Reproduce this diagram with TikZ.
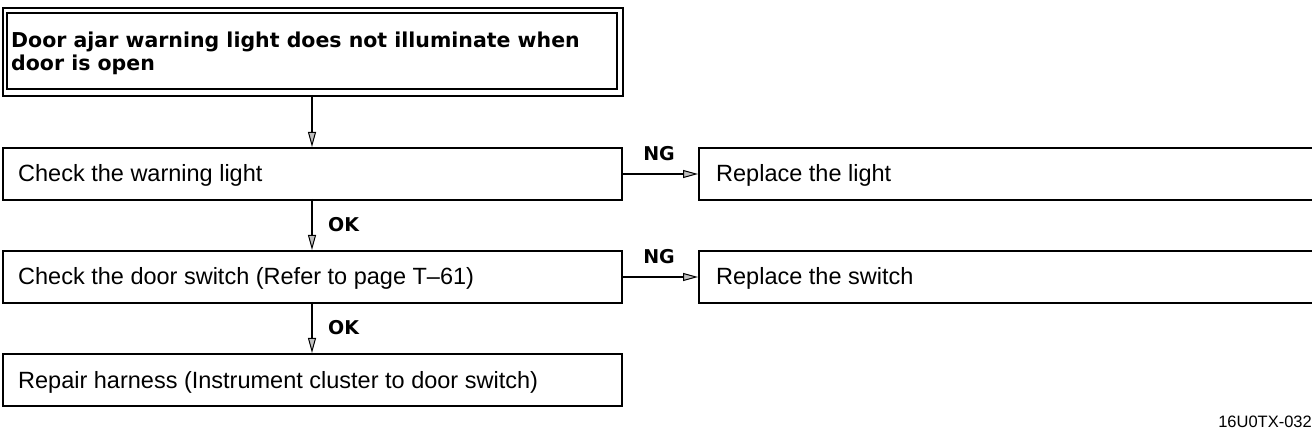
\documentclass[tikz,border=0pt]{standalone}
\usepackage{fontspec}
\setmainfont{Liberation Sans}
\newfontfamily\boldfam{DejaVu Sans}[BoldFont={DejaVu Sans Bold}]
\usetikzlibrary{arrows.meta,positioning}
\begin{document}
\begin{tikzpicture}[x=1pt,y=-1pt,
  box/.style={draw,line width=2pt,rectangle,inner sep=0pt},
  txt/.style={anchor=base west,font=\fontsize{23.5}{26}\selectfont,inner sep=0pt},
  lbl/.style={font=\boldfam\bfseries\fontsize{19}{20}\selectfont,inner sep=0pt},
  arr/.style={line width=1.6pt,-{Triangle[length=15pt,width=8pt,fill=gray!50,line width=1pt]}}]
\useasboundingbox (0,0) rectangle (1312,438);
\clip (0,0) rectangle (1312,438);
% title double box
\node[box,line width=2.4pt,minimum width=620,minimum height=88,anchor=north west] (t) at (2,7) {};
\draw[line width=2pt] (7,13) rectangle (617,89);
\node[anchor=base west,align=left,inner sep=0pt,font=\boldfam\bfseries\fontsize{20.5}{23}\selectfont] (tt) at (11,71) {Door ajar warning light does not illuminate when\\door is open};
% step boxes
\node[box,minimum width=619,minimum height=52,anchor=north west] (a) at (2,147) {};
\node[txt] (at) at (18,182) {Check the warning light};
\node[box,minimum width=640,minimum height=52,anchor=north west] (b) at (698,147) {};
\node[txt] (bt) at (716,182) {Replace the light};
\node[box,minimum width=619,minimum height=52,anchor=north west] (c) at (2,250) {};
\node[txt] (ct) at (18,285) {Check the door switch (Refer to page T\textendash61)};
\node[box,minimum width=640,minimum height=52,anchor=north west] (d) at (698,250) {};
\node[txt] (dt) at (716,285) {Replace the switch};
\node[box,minimum width=619,minimum height=52,anchor=north west] (e) at (2,353) {};
\node[txt] (et) at (18,388) {Repair harness (Instrument cluster to door switch)};
% connectors
\coordinate (t1) at (312,95);
\coordinate (a1) at (312,147);
\draw[arr] (t1) -- (a1);
\draw[arr] (312,199) -- (c.north -| 312,0);
\draw[arr] (312,302) -- (e.north -| 312,0);
\draw[arr] (a.east) -- (b.west);
\draw[arr] (c.east) -- (d.west);
% labels
\node[lbl] (ng1) at (659,154) {NG};
\node[lbl] (ng2) at (659,257) {NG};
\node[lbl,anchor=west] (ok1) at (328,225) {OK};
\node[lbl,anchor=west] (ok2) at (328,328) {OK};
\node[anchor=east,inner sep=0pt,font=\fontsize{16.5}{18}\selectfont] (ref) at (1312,422) {16U0TX-032};
\end{tikzpicture}
\end{document}
